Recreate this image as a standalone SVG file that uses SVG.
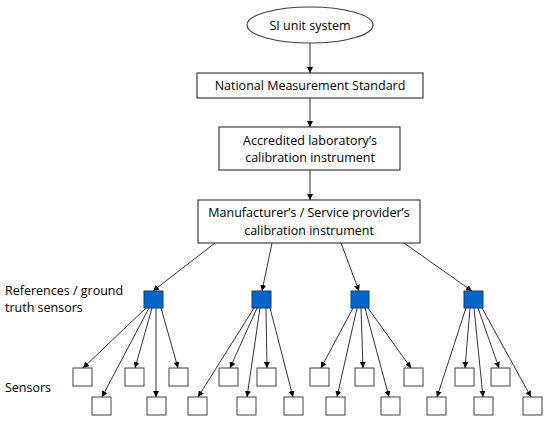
<svg xmlns="http://www.w3.org/2000/svg" width="550" height="421" viewBox="0 0 550 421">
<defs>
<marker id="ah" viewBox="0 0 10 10" refX="10" refY="5" markerWidth="6" markerHeight="6" orient="auto" markerUnits="userSpaceOnUse">
<path d="M0,0 L10,5 L0,10 z" fill="#000"/>
</marker>
<style>
.box{fill:#fff;stroke:#404040;stroke-width:1.2}
.ref{fill:#0066cc;stroke:#1f3a60;stroke-width:1}
.sen{fill:#fff;stroke:#404040;stroke-width:1}
.t{font-family:"Open Sans","Liberation Sans",sans-serif;font-size:12.5px;fill:#000}
.c{text-anchor:middle}
.cn line{stroke:#333;stroke-width:1;marker-end:url(#ah)}
</style>
</defs>
<rect width="550" height="421" fill="#fff"/>
<g id="si"><ellipse class="box" cx="310" cy="25" rx="63" ry="18"/><text class="t c" x="310" y="29.5">SI unit system</text></g>
<g id="nms"><rect class="box" x="197" y="73" width="226" height="25"/><text class="t c" x="310" y="90">National Measurement Standard</text></g>
<g id="acc"><rect class="box" x="219" y="127" width="181" height="43"/><text class="t c" x="310" y="145">Accredited laboratory’s</text><text class="t c" x="310" y="162">calibration instrument</text></g>
<g id="man"><rect class="box" x="198" y="200" width="222" height="43"/><text class="t c" x="309" y="217">Manufacturer’s / Service provider’s</text><text class="t c" x="309" y="235">calibration instrument</text></g>
<g id="lbl-ref"><text class="t" x="5" y="295">References / ground</text><text class="t" x="5" y="312">truth sensors</text></g>
<g id="lbl-sen"><text class="t" x="5" y="392">Sensors</text></g>
<g id="r1"><rect class="ref" x="144" y="291" width="19" height="17"/></g>
<g id="r2"><rect class="ref" x="252" y="291" width="19" height="17"/></g>
<g id="r3"><rect class="ref" x="351" y="291" width="18" height="17"/></g>
<g id="r4"><rect class="ref" x="464" y="291" width="19" height="17"/></g>
<g id="sensors">
<rect class="sen" x="73" y="368" width="19" height="18"/>
<rect class="sen" x="125" y="368" width="19" height="18"/>
<rect class="sen" x="169" y="368" width="19" height="18"/>
<rect class="sen" x="219" y="368" width="19" height="18"/>
<rect class="sen" x="257" y="368" width="19" height="18"/>
<rect class="sen" x="310" y="368" width="19" height="18"/>
<rect class="sen" x="355" y="368" width="19" height="18"/>
<rect class="sen" x="404" y="368" width="19" height="18"/>
<rect class="sen" x="455" y="368" width="19" height="18"/>
<rect class="sen" x="491" y="368" width="19" height="18"/>
<rect class="sen" x="92" y="397" width="19" height="18"/>
<rect class="sen" x="147" y="397" width="19" height="18"/>
<rect class="sen" x="188" y="397" width="19" height="18"/>
<rect class="sen" x="237" y="397" width="19" height="18"/>
<rect class="sen" x="284" y="397" width="19" height="18"/>
<rect class="sen" x="326" y="397" width="19" height="18"/>
<rect class="sen" x="381" y="397" width="19" height="18"/>
<rect class="sen" x="427" y="397" width="19" height="18"/>
<rect class="sen" x="474" y="397" width="19" height="18"/>
<rect class="sen" x="523" y="397" width="19" height="18"/>
</g>
<g id="connectors" class="cn">
<line x1="310" y1="43" x2="310" y2="73"/>
<line x1="310" y1="98" x2="310" y2="127"/>
<line x1="310" y1="170" x2="310" y2="200"/>
<line x1="215" y1="243" x2="153" y2="291"/>
<line x1="272" y1="243" x2="262" y2="291"/>
<line x1="341" y1="243" x2="359" y2="291"/>
<line x1="404" y1="243" x2="472" y2="291"/>
<line x1="146" y1="308" x2="83" y2="368"/>
<line x1="149" y1="308" x2="102" y2="397"/>
<line x1="152" y1="308" x2="135" y2="368"/>
<line x1="156" y1="308" x2="156" y2="397"/>
<line x1="161" y1="308" x2="178" y2="368"/>
<line x1="254" y1="308" x2="198" y2="397"/>
<line x1="257" y1="308" x2="230" y2="368"/>
<line x1="260" y1="308" x2="247" y2="397"/>
<line x1="266" y1="308" x2="267" y2="368"/>
<line x1="270" y1="308" x2="293" y2="397"/>
<line x1="353" y1="308" x2="321" y2="368"/>
<line x1="357" y1="308" x2="337" y2="397"/>
<line x1="361" y1="308" x2="363" y2="368"/>
<line x1="365" y1="308" x2="389" y2="397"/>
<line x1="368" y1="308" x2="411" y2="368"/>
<line x1="466" y1="308" x2="437" y2="397"/>
<line x1="470" y1="308" x2="465" y2="368"/>
<line x1="474" y1="308" x2="483" y2="397"/>
<line x1="478" y1="308" x2="499" y2="368"/>
<line x1="482" y1="308" x2="531" y2="397"/>
</g>
</svg>
